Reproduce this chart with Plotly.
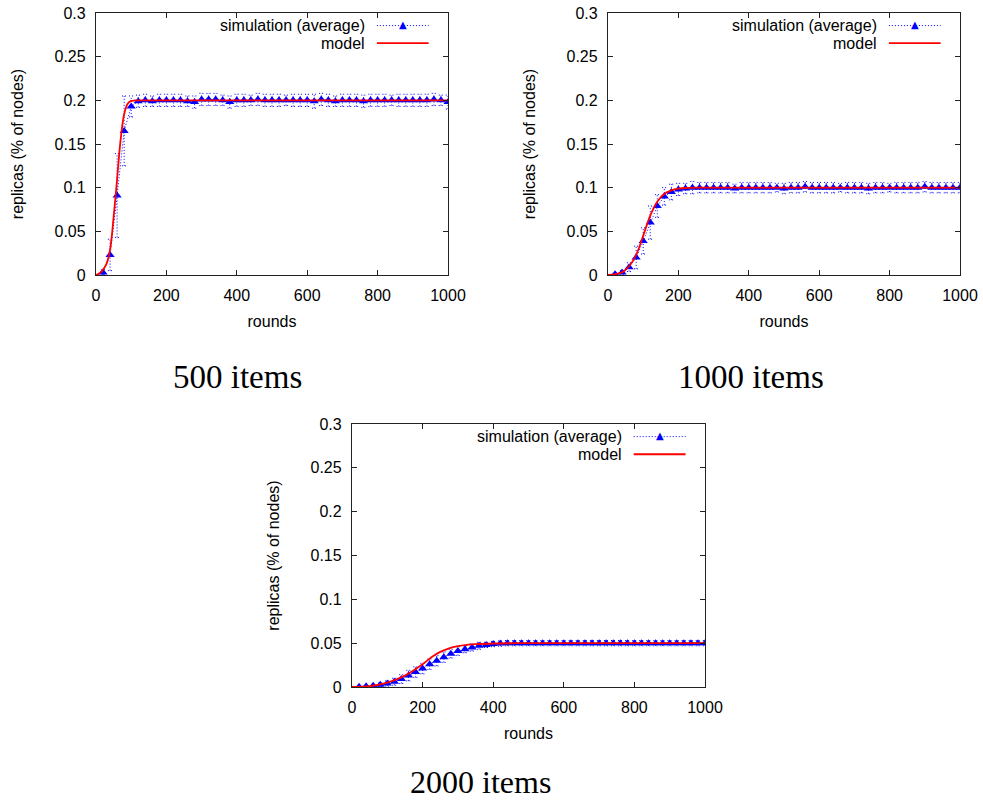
import plotly.graph_objects as go

# Sampling rounds of the simulation runs
rounds = [20, 40, 60, 80, 100, 120, 140, 160, 180, 200,
          220, 240, 260, 280, 300, 320, 340, 360, 380, 400,
          420, 440, 460, 480, 500, 520, 540, 560, 580, 600,
          620, 640, 660, 680, 700, 720, 740, 760, 780, 800,
          820, 840, 860, 880, 900, 920, 940, 960, 980, 1000]

# 500 items: average replicas and spread
sim_500 = [0.003, 0.023, 0.091, 0.165, 0.193, 0.199, 0.200, 0.199, 0.200, 0.200,
           0.200, 0.200, 0.199, 0.198, 0.201, 0.201, 0.201, 0.200, 0.198, 0.200,
           0.200, 0.200, 0.201, 0.200, 0.200, 0.200, 0.200, 0.200, 0.200, 0.200,
           0.199, 0.201, 0.200, 0.199, 0.200, 0.200, 0.200, 0.199, 0.200, 0.200,
           0.200, 0.200, 0.200, 0.200, 0.200, 0.200, 0.200, 0.201, 0.200, 0.198]
err_500 = [0.003, 0.018, 0.048, 0.040, 0.012, 0.007, 0.007, 0.006, 0.007, 0.007,
           0.007, 0.007, 0.006, 0.007, 0.007, 0.007, 0.007, 0.006, 0.007, 0.007,
           0.007, 0.006, 0.007, 0.007, 0.007, 0.007, 0.006, 0.007, 0.007, 0.007,
           0.008, 0.007, 0.007, 0.006, 0.007, 0.007, 0.007, 0.007, 0.007, 0.007,
           0.007, 0.006, 0.007, 0.007, 0.007, 0.007, 0.007, 0.007, 0.006, 0.008]

# 1000 items
sim_1000 = [0.001, 0.003, 0.009, 0.020, 0.039, 0.060, 0.079, 0.090, 0.095, 0.098,
            0.099, 0.100, 0.100, 0.100, 0.100, 0.100, 0.100, 0.099, 0.100, 0.100,
            0.100, 0.100, 0.100, 0.100, 0.099, 0.100, 0.100, 0.101, 0.100, 0.100,
            0.100, 0.100, 0.100, 0.100, 0.100, 0.100, 0.099, 0.100, 0.100, 0.100,
            0.100, 0.100, 0.100, 0.100, 0.101, 0.100, 0.100, 0.100, 0.100, 0.100]
err_1000 = [0.001, 0.002, 0.005, 0.013, 0.015, 0.019, 0.013, 0.010, 0.009, 0.007,
            0.006, 0.007, 0.006, 0.006, 0.006, 0.006, 0.006, 0.005, 0.006, 0.006,
            0.006, 0.006, 0.006, 0.005, 0.006, 0.006, 0.006, 0.006, 0.006, 0.006,
            0.006, 0.006, 0.005, 0.006, 0.006, 0.006, 0.006, 0.006, 0.006, 0.005,
            0.006, 0.006, 0.006, 0.006, 0.006, 0.006, 0.006, 0.006, 0.006, 0.006]

# 2000 items
sim_2000 = [0.0003, 0.0008, 0.0015, 0.0025, 0.004, 0.006, 0.009, 0.013, 0.017, 0.021,
            0.026, 0.030, 0.034, 0.038, 0.041, 0.043, 0.045, 0.047, 0.048, 0.049,
            0.0495, 0.050, 0.050, 0.050, 0.050, 0.050, 0.050, 0.050, 0.050, 0.050,
            0.050, 0.050, 0.050, 0.050, 0.050, 0.050, 0.050, 0.050, 0.050, 0.050,
            0.050, 0.050, 0.050, 0.050, 0.050, 0.050, 0.050, 0.050, 0.050, 0.050]
err_2000 = [0.0005, 0.001, 0.0015, 0.002, 0.003, 0.004, 0.005, 0.006, 0.006, 0.006,
            0.006, 0.006, 0.006, 0.005, 0.005, 0.004, 0.004, 0.004, 0.003, 0.003,
            0.003, 0.003, 0.003, 0.003, 0.003, 0.003, 0.003, 0.003, 0.003, 0.003,
            0.003, 0.003, 0.003, 0.003, 0.003, 0.003, 0.003, 0.003, 0.003, 0.003,
            0.003, 0.003, 0.003, 0.003, 0.003, 0.003, 0.003, 0.003, 0.003, 0.003]

# Analytical model curves
model_x_500 = [0, 10, 20, 30, 40, 50, 60, 70, 80, 90, 100, 110, 120, 200, 400, 600, 800, 1000]
model_500 = [0, 0.002, 0.006, 0.013, 0.029, 0.066, 0.110, 0.155, 0.184, 0.196, 0.1993, 0.1998,
             0.200, 0.200, 0.200, 0.200, 0.200, 0.200]
model_x_1000 = [0, 20, 40, 60, 80, 100, 120, 140, 160, 180, 200, 220, 250, 400, 600, 800, 1000]
model_1000 = [0, 0.001, 0.003, 0.010, 0.023, 0.045, 0.068, 0.084, 0.093, 0.097, 0.0988, 0.0996,
              0.100, 0.100, 0.100, 0.100, 0.100]
model_x_2000 = [0, 50, 100, 150, 200, 225, 250, 275, 300, 325, 350, 400, 450, 500, 600, 800, 1000]
model_2000 = [0, 0.001, 0.005, 0.013, 0.026, 0.034, 0.040, 0.044, 0.0465, 0.048, 0.0488, 0.0496,
              0.0499, 0.050, 0.050, 0.050, 0.050]

panels = [
    ("500 items", sim_500, err_500, model_x_500, model_500),
    ("1000 items", sim_1000, err_1000, model_x_1000, model_1000),
    ("2000 items", sim_2000, err_2000, model_x_2000, model_2000),
]

W, H = 983, 803
# plot-area boxes in pixels: left, right, top, bottom
boxes = [(96, 448, 13, 275), (608, 960, 13, 275), (352, 705, 424, 687)]
# caption anchor (x, y, vertical anchor) and size in pixels
captions = [(237, 377, "middle", 33), (751, 377, "middle", 33), (480, 802, "bottom", 32)]

BLUE = "#0000ff"
RED = "#ff0000"
TICK_FONT = dict(family="Liberation Sans, Arial, sans-serif", size=16, color="black")

fig = go.Figure()
layout = dict(width=W, height=H, margin=dict(l=0, r=0, t=0, b=0, pad=0, autoexpand=False),
              paper_bgcolor="white", plot_bgcolor="white", showlegend=False,
              annotations=[], shapes=[])

for i, (cap, sim, err, mx, my) in enumerate(panels):
    n = "" if i == 0 else str(i + 1)
    xa, ya = "x" + n, "y" + n
    l, r, t, b = boxes[i]
    px_per_round = (r - l) / 1000.0
    cap_w = 2.2 / px_per_round

    # dotted error bars with small caps
    ex, ey = [], []
    for x, y, e in zip(rounds, sim, err):
        lo, hi = max(y - e, 0), y + e
        ex += [x, x, None, x - cap_w, x + cap_w, None, x - cap_w, x + cap_w, None]
        ey += [lo, hi, None, lo, lo, None, hi, hi, None]
    fig.add_trace(go.Scatter(x=ex, y=ey, mode="lines", xaxis=xa, yaxis=ya,
                             line=dict(color=BLUE, width=1, dash="1px,2px"),
                             hoverinfo="skip", cliponaxis=True))
    # averaged simulation
    fig.add_trace(go.Scatter(x=rounds, y=sim, mode="lines+markers", xaxis=xa, yaxis=ya,
                             line=dict(color=BLUE, width=1, dash="1px,2px"),
                             marker=dict(symbol="triangle-up", size=8, color=BLUE),
                             name="simulation (average)"))
    # model
    fig.add_trace(go.Scatter(x=mx, y=my, mode="lines", xaxis=xa, yaxis=ya,
                             line=dict(color=RED, width=1.8, shape="spline"),
                             name="model"))

    axis_common = dict(showline=True, linecolor="#222222", linewidth=1.3, mirror="ticks",
                       ticks="inside", ticklen=5, tickwidth=1, tickcolor="#222222",
                       showgrid=False, zeroline=False, tickfont=TICK_FONT,
                       ticklabelstandoff=6, automargin=False)
    layout["xaxis" + n] = dict(axis_common, domain=[l / W, r / W], range=[0, 1000],
                               tickvals=[0, 200, 400, 600, 800, 1000], anchor=ya,
                               title=dict(text="rounds", font=TICK_FONT, standoff=12))
    layout["yaxis" + n] = dict(axis_common, domain=[1 - b / H, 1 - t / H], range=[0, 0.3],
                               tickvals=[0, 0.05, 0.1, 0.15, 0.2, 0.25, 0.3],
                               ticktext=["0", "0.05", "0.1", "0.15", "0.2", "0.25", "0.3"],
                               anchor=xa,
                               title=dict(text="replicas (% of nodes)", font=TICK_FONT, standoff=26))

    # key in the upper right corner, label left of the sample
    xd, yd = xa + " domain", ya + " domain"
    for label, yk, color, dash in [("simulation (average)", 0.952, BLUE, "1px,2px"),
                                   ("model", 0.885, RED, "solid")]:
        layout["annotations"].append(dict(text=label, xref=xd, yref=yd, x=0.77, y=yk,
                                          xanchor="right", yanchor="middle", showarrow=False,
                                          font=TICK_FONT))
        layout["shapes"].append(dict(type="line", xref=xd, yref=yd, x0=0.798, x1=0.945,
                                     y0=yk, y1=yk,
                                     line=dict(color=color, width=1 if color == BLUE else 1.8,
                                               dash=dash)))
    layout["annotations"].append(dict(text="▲", xref=xd, yref=yd, x=0.8715, y=0.955,
                                      xanchor="center", yanchor="middle", showarrow=False,
                                      font=dict(family="DejaVu Sans", size=10, color=BLUE)))

    # caption under the panel
    cx, cy, anchor, cs = captions[i]
    layout["annotations"].append(dict(text=cap, xref="paper", yref="paper",
                                      x=cx / W, y=1 - cy / H,
                                      xanchor="center", yanchor=anchor, showarrow=False,
                                      font=dict(family="Liberation Serif, serif", size=cs,
                                                color="black")))

fig.update_layout(**layout)
fig.write_html("out.html")
